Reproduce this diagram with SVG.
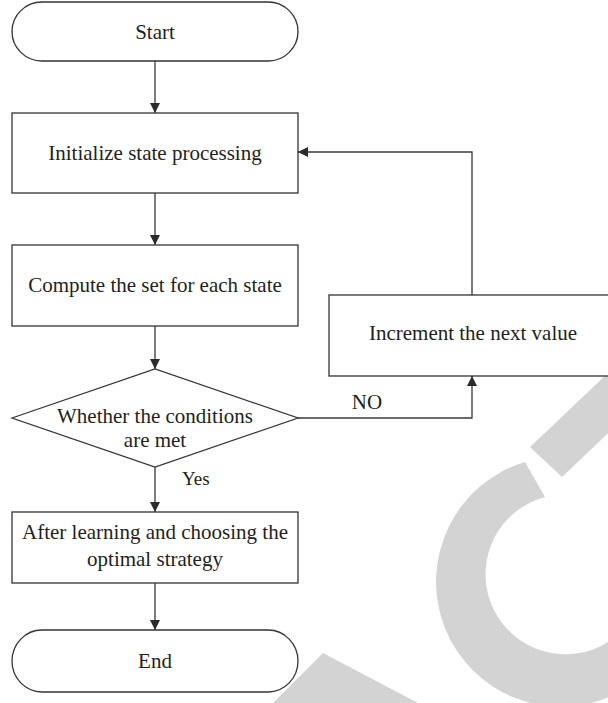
<svg xmlns="http://www.w3.org/2000/svg" width="608" height="703" viewBox="0 0 608 703">
  <defs>
    <marker id="arrow" viewBox="0 0 10 10" refX="10" refY="5" markerWidth="10" markerHeight="10" markerUnits="userSpaceOnUse" orient="auto">
      <path d="M0,0 L10,5 L0,10 Z" fill="#2b2b2b"/>
    </marker>
    <style>
      .shape { fill: #ffffff; stroke: #333333; stroke-width: 1.3; }
      .link { fill: none; stroke: #3a3a3a; stroke-width: 1.3; marker-end: url(#arrow); }
      .label { font-family: "Liberation Serif", "Times New Roman", serif; font-size: 21px; fill: #231f20; text-anchor: middle; }
      .mark { fill: #d3d3d3; }
    </style>
  </defs>
  <rect width="608" height="703" fill="#ffffff"/>

  <!-- background emblem -->
  <g id="emblem">
    <path class="mark" d="M525,462 A125,125 0 1 0 668,517 L634,533 A80,80 0 1 1 545,497 Z"/>
    <polygon class="mark" points="530,447 650,333 682,363 562,477"/>
    <polygon class="mark" points="323,653 418,703 273,703"/>
  </g>

  <!-- connectors -->
  <g id="connectors">
    <line class="link" x1="155" y1="61" x2="155" y2="113"/>
    <line class="link" x1="155" y1="193" x2="155" y2="245"/>
    <line class="link" x1="155" y1="326" x2="155" y2="369"/>
    <line class="link" x1="155" y1="467" x2="155" y2="512"/>
    <line class="link" x1="155" y1="583" x2="155" y2="630"/>
    <polyline class="link" points="298,418 472,418 472,376"/>
    <polyline class="link" points="472,295 472,152 298,152"/>
    <text class="label" x="367" y="409">NO</text>
    <text class="label" x="182" y="485" style="text-anchor:start;font-size:19px">Yes</text>
  </g>

  <g id="start">
    <rect class="shape" x="12" y="2" width="286" height="59" rx="30" ry="29.5"/>
    <text class="label" x="155" y="38.5">Start</text>
  </g>

  <g id="init">
    <rect class="shape" x="12" y="113" width="286" height="80"/>
    <text class="label" x="155" y="160">Initialize state processing</text>
  </g>

  <g id="compute">
    <rect class="shape" x="12" y="245" width="286" height="81"/>
    <text class="label" x="155" y="292">Compute the set for each state</text>
  </g>

  <g id="decision">
    <polygon class="shape" points="12,418 155,369 298,418 155,467"/>
    <text class="label" x="155" y="423">Whether the conditions</text>
    <text class="label" x="155" y="447">are met</text>
  </g>

  <g id="increment">
    <rect class="shape" x="329" y="295" width="290" height="81"/>
    <text class="label" x="473" y="340">Increment the next value</text>
  </g>

  <g id="learn">
    <rect class="shape" x="12" y="512" width="286" height="71"/>
    <text class="label" x="155" y="539">After learning and choosing the</text>
    <text class="label" x="155" y="566">optimal strategy</text>
  </g>

  <g id="end">
    <rect class="shape" x="12" y="630" width="286" height="62" rx="30" ry="31"/>
    <text class="label" x="155" y="668">End</text>
  </g>
</svg>
